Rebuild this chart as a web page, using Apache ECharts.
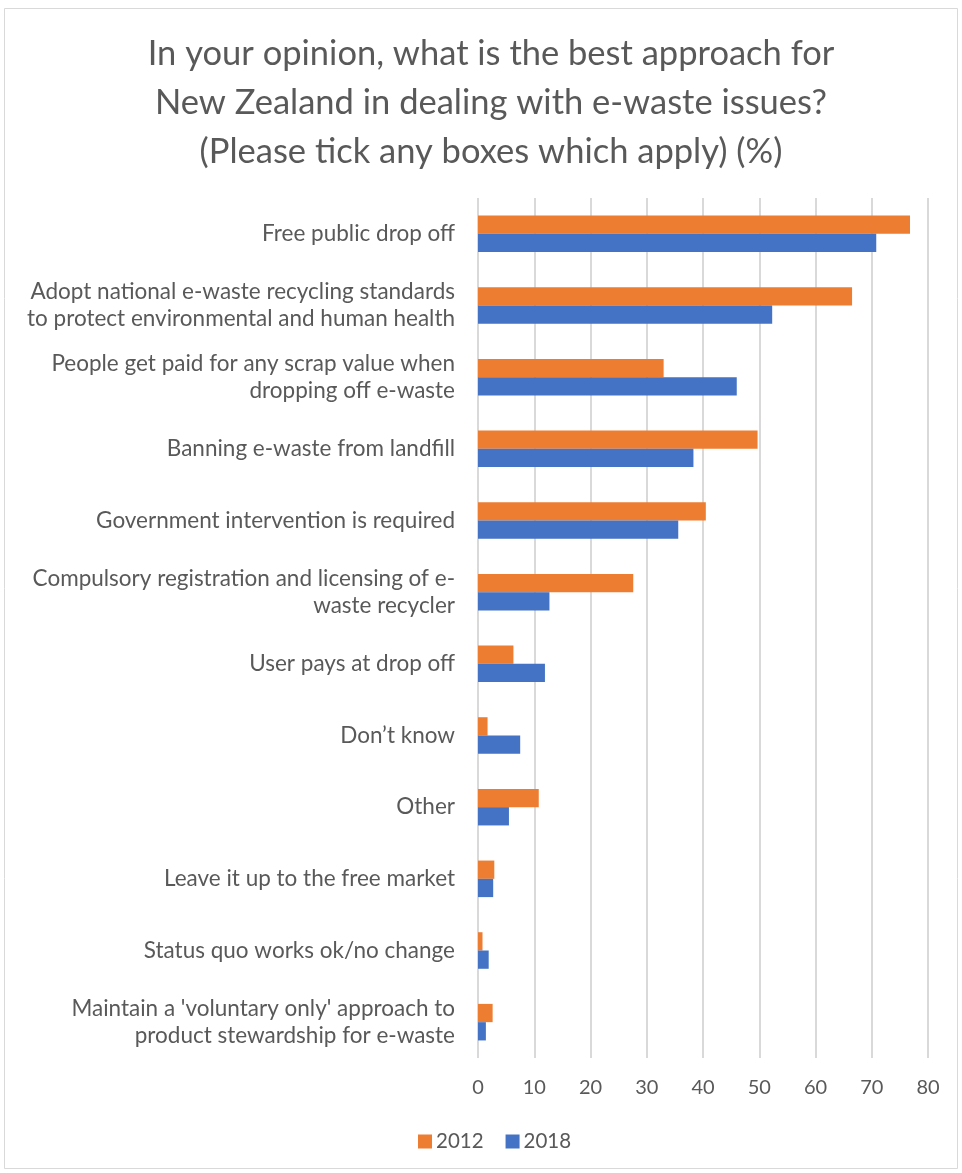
<!DOCTYPE html>
<html>
<head>
<meta charset="utf-8">
<script src="https://cdn.jsdelivr.net/npm/echarts@6/dist/echarts.min.js"></script>
<style>
  html, body { margin: 0; padding: 0; background: #fff; }
  #chart { width: 962px; height: 1173px; }
</style>
</head>
<body>
<div id="chart"></div>
<script>
// categories, top to bottom
var categories = [
  'Free public drop off',
  'Adopt national e-waste recycling standards\nto protect environmental and human health',
  'People get paid for any scrap value when\ndropping off e-waste',
  'Banning e-waste from landfill',
  'Government intervention is required',
  'Compulsory registration and licensing of e-\nwaste recycler',
  'User pays at drop off',
  'Don\u2019t know',
  'Other',
  'Leave it up to the free market',
  'Status quo works ok/no change',
  "Maintain a 'voluntary only' approach to\nproduct stewardship for e-waste"
]
var values2012 = [76.8, 66.5, 33.0, 49.7, 40.5, 27.6, 6.3, 1.7, 10.8, 2.9, 0.8, 2.6]
var values2018 = [70.8, 52.3, 46.0, 38.3, 35.6, 12.7, 11.9, 7.5, 5.5, 2.7, 1.9, 1.4]
var seriesNames = ['2012', '2018']

var font = 'Lato, "Open Sans", sans-serif'
var textColor = '#595959'

var myChart = echarts.init(document.getElementById('chart'))
var option = {
  backgroundColor: '#fff',
  animation: false,
  title: {
    text: 'In your opinion, what is the best approach for\nNew Zealand in dealing with e-waste issues?\n(Please tick any boxes which apply) (%)',
    left: 486,
    top: 24,
    textAlign: 'center',
    textStyle: {
      fontFamily: font,
      fontSize: 34.5,
      fontWeight: 'normal',
      color: textColor,
      lineHeight: 49
    }
  },
  legend: {
    data: seriesNames,
    left: 413,
    bottom: 16,
    itemWidth: 14,
    itemHeight: 14,
    itemGap: 22,
    icon: 'rect',
    textStyle: { fontFamily: font, fontSize: 20.5, color: textColor, padding: [0, 0, 0, -1] }
  },
  graphic: [{
    type: 'rect',
    shape: { x: 4.5, y: 8.5, width: 953, height: 1160 },
    style: { fill: 'none', stroke: '#d9d9d9', lineWidth: 1 },
    z: -1
  }],
  grid: {
    left: 478,
    right: 34,
    top: 198,
    bottom: 115
  },
  xAxis: {
    type: 'value',
    min: 0,
    max: 80,
    interval: 10,
    axisLine: { show: false },
    axisTick: { show: false },
    axisLabel: { fontFamily: font, fontSize: 20, color: textColor, margin: 20 },
    splitLine: { lineStyle: { color: '#d9d9d9', width: 2 } }
  },
  yAxis: {
    type: 'category',
    data: categories,
    inverse: true,
    axisLine: { show: false },
    axisTick: { show: false },
    axisLabel: {
      fontFamily: font,
      fontSize: 22.5,
      color: textColor,
      margin: 23,
      lineHeight: 27,
      align: 'right'
    }
  },
  series: [{
    name: '2012',
    type: 'bar',
    data: values2012,
    barGap: '0%',
    barCategoryGap: '49%',
    itemStyle: { color: '#ED7D31' }
  }, {
    name: '2018',
    type: 'bar',
    data: values2018,
    barGap: '0%',
    barCategoryGap: '49%',
    itemStyle: { color: '#4472C4' }
  }]
}
myChart.setOption(option)
</script>
</body>
</html>
